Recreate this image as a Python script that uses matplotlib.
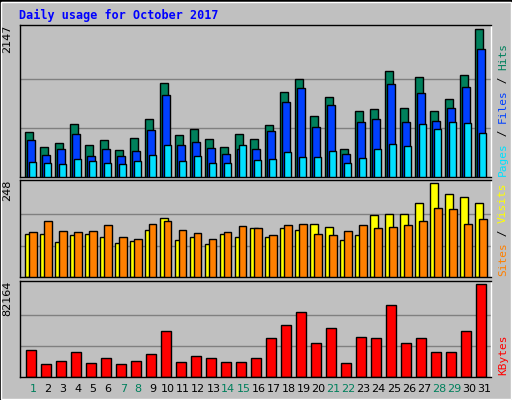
import matplotlib
matplotlib.use("Agg")
import matplotlib.pyplot as plt
from matplotlib.patches import Rectangle

days = list(range(1, 32))
weekend = [1, 7, 8, 14, 15, 21, 22, 28, 29]
hits = [656, 435, 493, 771, 464, 537, 391, 566, 844, 1371, 610, 698, 551, 435, 625, 551, 756, 1240, 1430, 888, 1162, 405, 961, 991, 1547, 1005, 1459, 961, 1137, 1488, 2147]
files = [537, 317, 405, 625, 303, 405, 303, 376, 683, 1195, 464, 508, 420, 332, 405, 405, 668, 1093, 1298, 722, 1049, 332, 805, 849, 1357, 805, 1225, 820, 1005, 1313, 1869]
pages = [215, 200, 185, 259, 229, 200, 185, 229, 317, 464, 229, 303, 200, 200, 464, 244, 259, 361, 288, 288, 376, 200, 273, 405, 478, 449, 771, 698, 800, 786, 640]
visits = [113, 113, 92, 110, 113, 105, 89, 94, 124, 156, 97, 105, 86, 113, 105, 129, 105, 129, 124, 140, 132, 97, 110, 164, 167, 167, 194, 248, 218, 210, 194]
sites = [118, 148, 121, 118, 121, 137, 105, 100, 140, 148, 124, 116, 100, 118, 135, 129, 110, 137, 140, 113, 110, 121, 137, 129, 132, 137, 148, 181, 178, 140, 154]
kbytes = [23692, 11097, 13796, 21892, 11997, 16496, 11097, 13796, 20093, 40788, 12897, 18294, 16496, 12897, 12897, 16496, 34489, 46186, 56985, 29990, 43487, 11997, 35390, 34489, 63283, 29990, 34489, 21892, 21892, 40788, 82164]

BG = "#C0C0C0"
fig = plt.figure(figsize=(5.12, 4.0), dpi=100)
fig.patch.set_facecolor("#C0C0C0")
fig.add_artist(Rectangle((0, 0), 1, 1, transform=fig.transFigure, fill=False, lw=2, ec="#000000"))
fig.add_artist(Rectangle((1/512, 1/400), 510/512, 397/400, transform=fig.transFigure, fill=False, lw=1, ec="white"))
fig.text(19/512, 1 - 15/400, "Daily usage for October 2017", color="#0000FF", fontsize=8.5,
         fontweight="bold", family="DejaVu Sans Mono", va="center")

W, H = 512, 400
def mkax(top, bot):
    ax = fig.add_axes([20/W, 1 - bot/H, 471/W, (bot - top)/H])
    ax.set_facecolor(BG)
    ax.set_xlim(0.67, 0.67 + 471/15.0)
    ax.set_xticks([]); ax.set_yticks([])
    for s in ax.spines.values():
        s.set_color("black"); s.set_linewidth(1)
    ax.spines["right"].set_color("white")
    return ax

def grid(ax, mx):
    for f in (1/3, 2/3):
        ax.axhline(mx * f, color="#808080", lw=1, zorder=0)

x = days
ax1 = mkax(25, 177)
ax1.set_ylim(0, 2147 * 1.03)
grid(ax1, 2147)
ax1.bar([d + 0.0 for d in x], hits, width=0.52, align="edge", color="#00805C", ec="black", lw=1, zorder=2)
ax1.bar([d + 0.15 for d in x], files, width=0.5, align="edge", color="#0040FF", ec="black", lw=1, zorder=3)
ax1.bar([d + 0.24 for d in x], pages, width=0.52, align="edge", color="#00E0FF", ec="black", lw=1, zorder=4)

ax2 = mkax(180, 277)
ax2.set_ylim(0, 248 * 1.03)
grid(ax2, 248)
ax2.bar([d + 0.0 for d in x], visits, width=0.55, align="edge", color="#FFFF00", ec="black", lw=1, zorder=2)
ax2.bar([d + 0.27 for d in x], sites, width=0.5, align="edge", color="#FF8000", ec="black", lw=1, zorder=3)

ax3 = mkax(281, 377)
ax3.set_ylim(0, 82164 * 1.03)
grid(ax3, 82164)
ax3.bar([d + 0.07 for d in x], kbytes, width=0.66, align="edge", color="#FF0000", ec="black", lw=1, zorder=2)

for d in days:
    fig.text((33 + 15.03 * (d - 1)) / W, 1 - 389/H, str(d), ha="center", va="center",
             fontsize=8, color="#00805C" if d in weekend else "black")

for ax, lab in ((ax1, "2147"), (ax2, "248"), (ax3, "82164")):
    ax.text(-0.028, 1.0, lab, transform=ax.transAxes, rotation=90, ha="center", va="top", fontsize=8)

def vlabel(parts, ybot):
    y = ybot
    for t, c in parts:
        fig.text(503/W, y/H, t, rotation=90, color=c, fontsize=8, family="DejaVu Sans Mono",
                 ha="center", va="bottom")
        y += len(t) * 6.6

vlabel([("Pages", "#00E0FF"), (" / ", "#000000"), ("Files", "#0040FF"), (" / ", "#000000"), ("Hits", "#00805C")], 400 - 176)
vlabel([("Sites", "#FF8000"), (" / ", "#000000"), ("Visits", "#FFFF00")], 400 - 276)
vlabel([("KBytes", "#FF0000")], 400 - 375)

fig.savefig("out.png", dpi=100, facecolor=fig.get_facecolor())
